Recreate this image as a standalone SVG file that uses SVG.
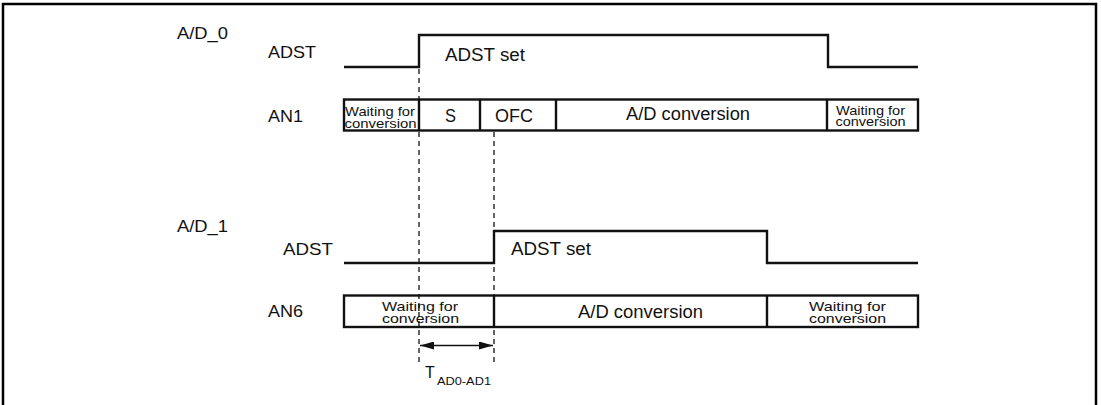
<svg xmlns="http://www.w3.org/2000/svg" width="1101" height="405" viewBox="0 0 1101 405">
<defs>
<marker id="ah" viewBox="0 0 14 8" refX="14" refY="4" markerWidth="14" markerHeight="8" markerUnits="userSpaceOnUse" orient="auto-start-reverse"><path d="M0,0 L14,4 L0,8 Z" fill="#111"/></marker>
</defs>
<style>
text{font-family:"Liberation Sans",Arial,sans-serif;fill:#111}
.lbl{font-size:17px}
.big{font-size:17.5px}
.sm{font-size:13px}
.sig{fill:none;stroke:#111;stroke-width:2.4}
.box{fill:#fff;stroke:#111;stroke-width:2.4}
.dash{stroke:#111;stroke-width:1.3;stroke-dasharray:5,4;fill:none}
</style>
<rect width="1101" height="405" fill="#fff"/>
<path d="M3,405 V4 H1096 V405" fill="none" stroke="#000" stroke-width="2.5"/>

<g id="labels">
<text class="lbl" x="177" y="39" textLength="51" lengthAdjust="spacingAndGlyphs">A/D_0</text>
<text class="lbl" x="268" y="58" textLength="48" lengthAdjust="spacingAndGlyphs">ADST</text>
<text class="lbl" x="268" y="122" textLength="35" lengthAdjust="spacingAndGlyphs">AN1</text>
<text class="lbl" x="177" y="232" textLength="51" lengthAdjust="spacingAndGlyphs">A/D_1</text>
<text class="lbl" x="283" y="255" textLength="50" lengthAdjust="spacingAndGlyphs">ADST</text>
<text class="lbl" x="268" y="317" textLength="35" lengthAdjust="spacingAndGlyphs">AN6</text>
</g>

<g id="adst0">
<path class="sig" d="M344,67 H419 V35 H828 V67 H918"/>
<text class="big" x="445" y="61" textLength="80" lengthAdjust="spacingAndGlyphs">ADST set</text>
</g>

<g id="an1">
<rect class="box" x="344" y="99.5" width="574" height="31"/>
<path class="sig" d="M419,99.5 V130.5 M480,99.5 V130.5 M556,99.5 V130.5 M827,99.5 V130.5"/>
<text class="sm"><tspan x="345" y="116" textLength="70" lengthAdjust="spacingAndGlyphs">Waiting for</tspan><tspan x="344.5" y="128" textLength="72" lengthAdjust="spacingAndGlyphs">conversion</tspan></text>
<text class="big" x="445" y="122" textLength="11" lengthAdjust="spacingAndGlyphs">S</text>
<text class="big" x="495" y="122" textLength="38" lengthAdjust="spacingAndGlyphs">OFC</text>
<text class="big" x="626" y="120" textLength="124" lengthAdjust="spacingAndGlyphs">A/D conversion</text>
<text class="sm"><tspan x="836" y="115" textLength="69" lengthAdjust="spacingAndGlyphs">Waiting for</tspan><tspan x="835.5" y="126" textLength="70" lengthAdjust="spacingAndGlyphs">conversion</tspan></text>
</g>

<g id="adst1">
<path class="sig" d="M344,263 H494 V231 H767 V263 H918"/>
<text class="big" x="511" y="255" textLength="80" lengthAdjust="spacingAndGlyphs">ADST set</text>
</g>

<g id="an6">
<rect class="box" x="344" y="295.5" width="574" height="31.5"/>
<path class="sig" d="M494,295.5 V327 M767,295.5 V327"/>
<text class="sm"><tspan x="382" y="311" textLength="76" lengthAdjust="spacingAndGlyphs">Waiting for</tspan><tspan x="382" y="323" textLength="77" lengthAdjust="spacingAndGlyphs">conversion</tspan></text>
<text class="big" x="578" y="318" textLength="125" lengthAdjust="spacingAndGlyphs">A/D conversion</text>
<text class="sm"><tspan x="809" y="311" textLength="77" lengthAdjust="spacingAndGlyphs">Waiting for</tspan><tspan x="809" y="323" textLength="77" lengthAdjust="spacingAndGlyphs">conversion</tspan></text>
</g>

<g id="connectors">
<line class="dash" x1="419" y1="69" x2="419" y2="366"/>
<line class="dash" x1="494" y1="132" x2="494" y2="366"/>
<line x1="420" y1="345.5" x2="493" y2="345.5" stroke="#111" stroke-width="1.6" marker-start="url(#ah)" marker-end="url(#ah)"/>
</g>

<g id="tlabel">
<text x="425" y="378" style="font-size:16px">T<tspan x="437" y="385" style="font-size:11.5px" textLength="54" lengthAdjust="spacingAndGlyphs">AD0-AD1</tspan></text>
</g>
</svg>
